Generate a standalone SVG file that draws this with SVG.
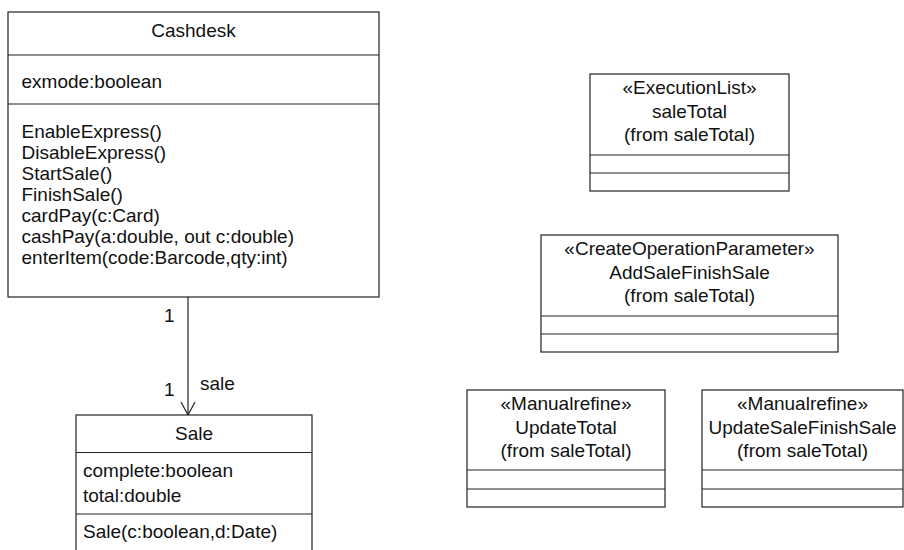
<svg xmlns="http://www.w3.org/2000/svg" width="904" height="550" viewBox="0 0 904 550">
<style>
.box{fill:#fff;stroke:#222;stroke-width:1.2}
.ln{stroke:#222;stroke-width:1.2;fill:none}
text{font-family:"Liberation Sans",Arial,Helvetica,sans-serif;font-size:19px;fill:#111}
.c{text-anchor:middle}
</style>
<rect width="904" height="550" fill="#fff"/>
<g id="connectors">
<line class="ln" x1="188" y1="297" x2="188" y2="415"/>
<polyline class="ln" points="181,402 188,415 195,402"/>
<text x="164" y="322">1</text>
<text x="164" y="396">1</text>
<text x="200" y="390">sale</text>
</g>
<g id="Cashdesk">
<rect class="box" x="8" y="12" width="371" height="285"/>
<line class="ln" x1="8" y1="55" x2="379" y2="55"/>
<line class="ln" x1="8" y1="104" x2="379" y2="104"/>
<text class="c" x="193.5" y="37">Cashdesk</text>
<text x="21.5" y="88">exmode:boolean</text>
<text x="21.5" y="137.5">EnableExpress()</text>
<text x="21.5" y="158.5">DisableExpress()</text>
<text x="21.5" y="179.5">StartSale()</text>
<text x="21.5" y="200.5">FinishSale()</text>
<text x="21.5" y="221.5">cardPay(c:Card)</text>
<text x="21.5" y="242.5">cashPay(a:double, out c:double)</text>
<text x="21.5" y="263.5">enterItem(code:Barcode,qty:int)</text>
</g>
<g id="Sale">
<rect class="box" x="76" y="415" width="236" height="145"/>
<line class="ln" x1="76" y1="452.5" x2="312" y2="452.5"/>
<line class="ln" x1="76" y1="514" x2="312" y2="514"/>
<text class="c" x="194" y="440">Sale</text>
<text x="83" y="476.5">complete:boolean</text>
<text x="83" y="502">total:double</text>
<text x="83" y="538">Sale(c:boolean,d:Date)</text>
</g>
<g id="saleTotal">
<rect class="box" x="590" y="74" width="199" height="117"/>
<line class="ln" x1="590" y1="155" x2="789" y2="155"/>
<line class="ln" x1="590" y1="173" x2="789" y2="173"/>
<text class="c" x="689.5" y="94">«ExecutionList»</text>
<text class="c" x="689.5" y="117.5">saleTotal</text>
<text class="c" x="689.5" y="141">(from saleTotal)</text>
</g>
<g id="AddSaleFinishSale">
<rect class="box" x="541" y="235" width="297" height="117"/>
<line class="ln" x1="541" y1="316" x2="838" y2="316"/>
<line class="ln" x1="541" y1="334" x2="838" y2="334"/>
<text class="c" x="689.5" y="255">«CreateOperationParameter»</text>
<text class="c" x="689.5" y="278.5">AddSaleFinishSale</text>
<text class="c" x="689.5" y="302">(from saleTotal)</text>
</g>
<g id="UpdateTotal">
<rect class="box" x="467" y="390" width="198" height="117"/>
<line class="ln" x1="467" y1="470" x2="665" y2="470"/>
<line class="ln" x1="467" y1="489" x2="665" y2="489"/>
<text class="c" x="566" y="410">«Manualrefine»</text>
<text class="c" x="566" y="433.5">UpdateTotal</text>
<text class="c" x="566" y="457">(from saleTotal)</text>
</g>
<g id="UpdateSaleFinishSale">
<rect class="box" x="702" y="390" width="201" height="117"/>
<line class="ln" x1="702" y1="470" x2="903" y2="470"/>
<line class="ln" x1="702" y1="489" x2="903" y2="489"/>
<text class="c" x="802.5" y="410">«Manualrefine»</text>
<text class="c" x="802.5" y="433.5">UpdateSaleFinishSale</text>
<text class="c" x="802.5" y="457">(from saleTotal)</text>
</g>
</svg>
